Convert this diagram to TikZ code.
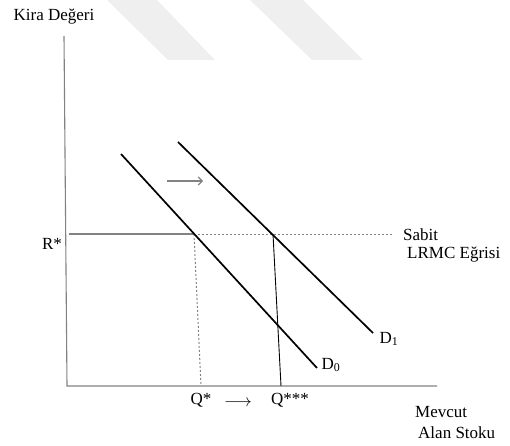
\documentclass[tikz,border=0pt]{standalone}
\usepackage{fontspec}
\setmainfont{Liberation Serif}
\usetikzlibrary{positioning, calc, arrows.meta}
\definecolor{axisgray}{RGB}{130, 130, 130}
\definecolor{markgray}{RGB}{239, 239, 239}
\tikzstyle{txt} = [inner sep=0pt, font=\fontsize{17}{20}\selectfont]
\tikzstyle{axis} = [draw=axisgray, line width=1.1pt]
\tikzstyle{demand} = [draw=black, line width=1.7pt]
\tikzstyle{guide} = [draw=axisgray, line width=1pt, dash pattern=on 2pt off 2pt]
\tikzstyle{shiftarrow} = [draw=axisgray, line width=1.1pt, -{Straight Barb[length=4pt, width=8pt]}]

\begin{document}
\begin{tikzpicture}[x=1pt, y=1pt]
        \useasboundingbox (0,0) rectangle (510,445);
        % Watermark
        \fill [markgray] (107,445) -- (157,445) -- (215,385) -- (168,385) -- cycle;
        \fill [markgray] (250,445) -- (303,445) -- (363,385) -- (312,385) -- cycle;

        % Points
        \coordinate (top) at (64,409);
        \coordinate (origin) at (67,59);
        \coordinate (xend) at (437,59);
        \coordinate (rstart) at (69,211);
        \coordinate (e0) at (194,211);
        \coordinate (e1) at (273,211);
        \coordinate (rend) at (392,211);
        \coordinate (q0) at (201,59);
        \coordinate (q1) at (281,59);
        \coordinate (d0a) at (121,291);
        \coordinate (d0b) at (317,77);
        \coordinate (d1a) at (178,303);
        \coordinate (d1b) at (373,112);
        \coordinate (sa) at (167,264);
        \coordinate (sb) at (203,264);

        % Nodes
        \node [txt] (rent) at (54,428) {Kira Değeri};
        \node [txt] (rstar) at (52,201) {R*};
        \node [txt, anchor=west] (sabit) at (403,210) {Sabit};
        \node [txt, anchor=west] (lrmc) at (407,190) {LRMC Eğrisi};
        \node [txt] (qs) at (201,45) {Q*};
        \node [txt] (qarrow) at (238,42) {$\longrightarrow$};
        \node [txt] (qsss) at (290,45) {Q***};
        \node [txt, anchor=west] (mevcut) at (415,33) {Mevcut};
        \node [txt, anchor=west] (stok) at (418,12) {Alan Stoku};
        \node [txt] (dzero) at (331,80) {D\textsubscript{0}};
        \node [txt] (done) at (389,106) {D\textsubscript{1}};

        % Edges
        \path [axis] (top) -- (origin) -- (xend);
        \path [axis] (rstart) -- (e0);
        \path [guide] (e0) -- (rend);
        \path [guide] (e0) -- (q0);
        \draw [line width=0.9pt] (e1) -- (q1);
        \path [demand] (d0a) -- (d0b);
        \path [demand] (d1a) -- (d1b);
        \path [shiftarrow] (sa) -- (sb);
    \end{tikzpicture}
\end{document}
